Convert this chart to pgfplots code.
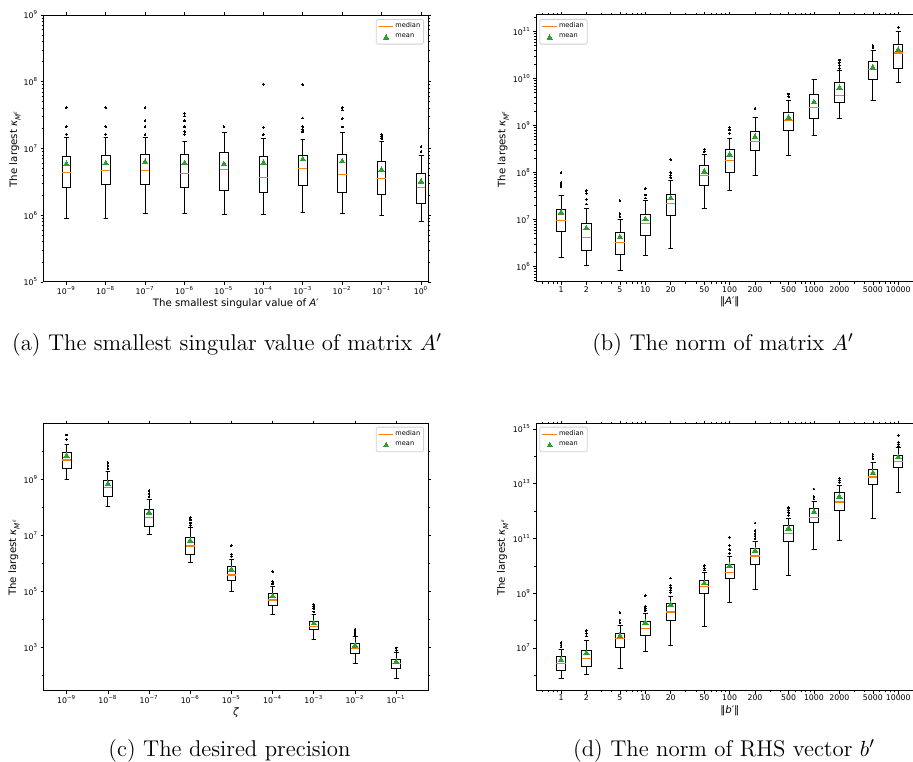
\documentclass[border=0pt]{standalone}
\usepackage{pgfplots}
\pgfplotsset{compat=1.18}
\usepackage{fontspec}
\newfontfamily\dv{DejaVu Sans}
\definecolor{mplorange}{HTML}{FF7F0E}
\definecolor{mplgreen}{HTML}{2CA02C}
\newcommand\tickfont{\dv\fontsize{3.9}{4.5}\selectfont}
\newcommand\labfont{\dv\fontsize{5.1}{6}\selectfont}
\newcommand\legfont{\dv\fontsize{3.3}{4}\selectfont}
\newcommand\capfont{\fontsize{11.4}{13.5}\selectfont}
\newcommand\ylab{The largest {\itshape κ}\textsubscript{{\itshape M}\textsuperscript{{\itshape ε}}}}
\pgfplotsset{
  every axis/.append style={
    scale only axis,
    axis line style={line width=0.5pt},
    tick align=outside,
    major tick length=1.4pt, minor tick length=0.8pt,
    every tick/.style={black, line width=0.35pt},
    tick label style={font=\tickfont},
    xticklabel style={inner sep=0.6pt},
    yticklabel style={inner sep=1pt},
    label style={font=\labfont, inner sep=0.5pt},
    legend style={draw=black!18, rounded corners=0.8pt, fill=white, font=\legfont,
      inner xsep=1pt, inner ysep=0.9pt, row sep=0.4pt, nodes={inner sep=0.7pt}},
    legend cell align=left,
    legend image code/.code={\draw[mark repeat=2, mark phase=2, #1] plot coordinates {(0pt,0pt) (3.6pt,0pt) (7.2pt,0pt)};},
  },
  boxln/.style={forget plot, black, line width=0.45pt, mark=none, line join=miter, line cap=rect},
  medln/.style={forget plot, mplorange, line width=0.6pt, mark=none},
  outl/.style={forget plot, only marks, mark=*, mark size=0.42pt, black,
    mark options={fill=black, draw=black, line width=0pt}},
  meanmk/.style={forget plot, only marks, mark=triangle*, mark size=1.6pt,
    mark options={fill=mplgreen, draw=mplgreen, line width=0pt}},
}
% #1 position, #2 lower whisker, #3 Q1, #4 median, #5 Q3, #6 upper whisker, #7 outliers
\newcommand{\bx}[7]{%
  \pgfmathsetmacro\bxl{#1-\bw}\pgfmathsetmacro\bxr{#1+\bw}%
  \pgfmathsetmacro\capl{#1-\cw}\pgfmathsetmacro\capr{#1+\cw}%
  \edef\tmp{%
    \noexpand\addplot[boxln] coordinates {(\bxl,#3)(\bxr,#3)(\bxr,#5)(\bxl,#5)(\bxl,#3)};
    \noexpand\addplot[boxln] coordinates {(#1,#3)(#1,#2)(\capl,#2)(\capr,#2)};
    \noexpand\addplot[boxln] coordinates {(#1,#5)(#1,#6)(\capl,#6)(\capr,#6)};
    \noexpand\addplot[medln] coordinates {(\bxl,#4)(\bxr,#4)};
  }\tmp
  \if\relax\detokenize{#7}\relax\else
    \def\pts{}\foreach \v in {#7}{\xdef\pts{\pts(#1,\v)}}%
    \edef\tmp{\noexpand\addplot[outl] coordinates {\pts};}\tmp
  \fi}
\newcommand{\leg}{%
  \addlegendimage{draw=mplorange, line width=0.75pt, mark=none}
  \addlegendentry{median}
  \addlegendimage{only marks, mark=triangle*, mark size=1.5pt, mark options={fill=mplgreen, draw=mplgreen, line width=0pt}}
  \addlegendentry{mean}}
\begin{document}
\begin{tikzpicture}
\useasboundingbox (0,0) rectangle (456.5pt,380.5pt);
% (a)
\def\bw{0.11}\def\cw{0.055}
\begin{axis}[ymode=log, at={(21.65pt,239.5pt)}, anchor=south west, width=192.5pt, height=133.5pt,
  xmin=-0.584, xmax=9.185, ymin=1e5, ymax=1e9,
  xtick={0,1,2,3,4,5,6,7,8,9},
  xticklabels={10\textsuperscript{−9},10\textsuperscript{−8},10\textsuperscript{−7},10\textsuperscript{−6},10\textsuperscript{−5},10\textsuperscript{−4},10\textsuperscript{−3},10\textsuperscript{−2},10\textsuperscript{−1},10\textsuperscript{0}},
  ytick={1e5,1e6,1e7,1e8,1e9},
  yticklabels={10\textsuperscript{5},10\textsuperscript{6},10\textsuperscript{7},10\textsuperscript{8},10\textsuperscript{9}},
  minor ytick={2e5,3e5,4e5,5e5,6e5,7e5,8e5,9e5,2e6,3e6,4e6,5e6,6e6,7e6,8e6,9e6,2e7,3e7,4e7,5e7,6e7,7e7,8e7,9e7,2e8,3e8,4e8,5e8,6e8,7e8,8e8,9e8},
  xlabel={The smallest singular value of {\itshape A}′}, ylabel={\ylab},
  xlabel style={at={(axis description cs:0.5,-0.08)}, anchor=center},
  ylabel style={at={(axis description cs:-0.0735,0.5)}, anchor=center},
  legend style={at={(1,1)}, anchor=north east, xshift=-2.15pt, yshift=-2pt}]
\bx{0}{8.9e5}{2.63e6}{4.4e6}{7.64e6}{1.47e7}{4.1e7,2.12e7,1.63e7}
\bx{1}{8.9e5}{2.92e6}{4.72e6}{7.9e6}{1.47e7}{4.1e7,2.12e7,1.63e7}
\bx{2}{1.05e6}{2.92e6}{4.72e6}{8.19e6}{1.47e7}{4.1e7,2.6e7,2.12e7,1.63e7}
\bx{3}{1.05e6}{2.57e6}{4.26e6}{8.1e6}{1.27e7}{3.35e7,3.06e7,2.6e7,2.12e7,1.79e7,1.63e7}
\bx{4}{1.04e6}{2.32e6}{4.83e6}{8.77e6}{1.73e7}{2.12e7}
\bx{5}{1.03e6}{2.19e6}{3.71e6}{7.64e6}{1.42e7}{9.2e7,2.07e7,1.61e7}
\bx{6}{1.12e6}{2.75e6}{5.06e6}{7.8e6}{1.36e7}{9.1e7,2.86e7,2.12e7,1.93e7,1.77e7}
\bx{7}{1.07e6}{2.21e6}{4.11e6}{8.28e6}{1.71e7}{4.1e7,3.76e7,2.8e7,2.1e7}
\bx{8}{9.9e5}{2.07e6}{3.58e6}{6.43e6}{1.29e7}{1.61e7,1.5e7,1.4e7}
\bx{9}{8.07e5}{1.52e6}{2.6e6}{4.21e6}{7.9e6}{1.06e7,8.98e6}
\addplot[meanmk] coordinates {(0,5.87e6)(1,6.0e6)(2,6.28e6)(3,6.0e6)(4,5.8e6)(5,6.07e6)(6,6.89e6)(7,6.43e6)(8,4.78e6)(9,3.19e6)};
\leg
\end{axis}
% (b)
\def\bw{0.055}\def\cw{0.0275}
\begin{axis}[ymode=log, at={(268pt,239.5pt)}, anchor=south west, width=193.75pt, height=133.5pt,
  xmin=-0.297, xmax=4.30, ymin=4.72e5, ymax=2.26e11,
  xtick={0,0.30103,0.69897,1,1.30103,1.69897,2,2.30103,2.69897,3,3.30103,3.69897,4},
  xticklabels={1,2,5,10,20,50,100,200,500,1000,2000,5000,10000},
  minor xtick={-0.22185,-0.15490,-0.09691,-0.04576,0.47712,0.60206,0.77815,0.84510,0.90309,0.95424,1.47712,1.60206,1.77815,1.84510,1.90309,1.95424,2.47712,2.60206,2.77815,2.84510,2.90309,2.95424,3.47712,3.60206,3.77815,3.84510,3.90309,3.95424},
  ytick={1e6,1e7,1e8,1e9,1e10,1e11},
  yticklabels={10\textsuperscript{6},10\textsuperscript{7},10\textsuperscript{8},10\textsuperscript{9},10\textsuperscript{10},10\textsuperscript{11}},
  minor ytick={5e5,6e5,7e5,8e5,9e5,2e6,3e6,4e6,5e6,6e6,7e6,8e6,9e6,2e7,3e7,4e7,5e7,6e7,7e7,8e7,9e7,2e8,3e8,4e8,5e8,6e8,7e8,8e8,9e8,2e9,3e9,4e9,5e9,6e9,7e9,8e9,9e9,2e10,3e10,4e10,5e10,6e10,7e10,8e10,9e10,2e11},
  xlabel={‖{\itshape A}′‖}, ylabel={\ylab},
  xlabel style={at={(axis description cs:0.5,-0.075)}, anchor=center},
  ylabel style={at={(axis description cs:-0.0844,0.5)}, anchor=center},
  legend style={at={(0,1)}, anchor=north west, xshift=1.65pt, yshift=-2pt}]
\bx{0}{1.55e6}{5.65e6}{9.5e6}{1.69e7}{3.35e7}{1e8,6.2e7,5.5e7,5.0e7}
\bx{0.30103}{1.08e6}{2.23e6}{4.2e6}{8.2e6}{1.71e7}{4.14e7,3.63e7,2.71e7,2.15e7}
\bx{0.69897}{8.36e5}{1.83e6}{3.3e6}{5.28e6}{1e7}{2.54e7,1.34e7,1.16e7}
\bx{1}{1.74e6}{4.65e6}{8.36e6}{1.3e7}{2.58e7}{4.57e7,3.35e7,2.89e7}
\bx{1.30103}{2.42e6}{1.2e7}{2.19e7}{3.52e7}{6.87e7}{1.89e8,1e8,8.77e7,7.83e7}
\bx{1.69897}{1.74e7}{5.47e7}{8.77e7}{1.41e8}{2.5e8}{3.13e8,2.8e8}
\bx{2}{4.14e7}{1e8}{1.83e8}{3.08e8}{5.28e8}{9.2e8,8.1e8,6.87e8}
\bx{2.30103}{8.77e7}{2.99e8}{4.57e8}{7.45e8}{1.46e9}{2.34e9}
\bx{2.69897}{2.3e8}{7.96e8}{1.3e9}{1.89e9}{3.46e9}{4.72e9,4.14e9}
\bx{3}{6.33e8}{1.41e9}{2.45e9}{4.57e9}{9.4e9}{}
\bx{3.30103}{1.39e9}{3.19e9}{4.42e9}{8.5e9}{1.48e10}{2.5e10,2.19e10,1.92e10,1.66e10}
\bx{3.69897}{3.46e9}{9.4e9}{1.58e10}{2.34e10}{4.07e10}{5.03e10,4.57e10}
\bx{4}{8.36e9}{1.66e10}{3.52e10}{5.28e10}{1e11}{1.24e11}
\addplot[meanmk] coordinates {(0,1.41e7)(0.30103,6.55e6)(0.69897,4.2e6)(1,1.02e7)(1.30103,2.85e7)(1.69897,1.05e8)(2,2.42e8)(2.30103,5.74e8)(2.69897,1.48e9)(3,3.13e9)(3.30103,6.33e9)(3.69897,1.71e10)(4,4.07e10)};
\leg
\end{axis}
% (c)
\def\bw{0.105}\def\cw{0.0525}
\begin{axis}[ymode=log, at={(21.65pt,35.15pt)}, anchor=south west, width=192.5pt, height=133.7pt,
  xmin=-0.568, xmax=8.78, ymin=28, ymax=1e11,
  xtick={0,1,2,3,4,5,6,7,8},
  xticklabels={10\textsuperscript{−9},10\textsuperscript{−8},10\textsuperscript{−7},10\textsuperscript{−6},10\textsuperscript{−5},10\textsuperscript{−4},10\textsuperscript{−3},10\textsuperscript{−2},10\textsuperscript{−1}},
  ytick={1e3,1e5,1e7,1e9},
  yticklabels={10\textsuperscript{3},10\textsuperscript{5},10\textsuperscript{7},10\textsuperscript{9}},
  minor ytick={1e2,1e4,1e6,1e8,1e10},
  xlabel={{\itshape ζ}}, ylabel={\ylab},
  xlabel style={at={(axis description cs:0.5,-0.081)}, anchor=center},
  ylabel style={at={(axis description cs:-0.076,0.5)}, anchor=center},
  legend style={at={(1,1)}, anchor=north east, xshift=-2.15pt, yshift=-1.7pt}]
\bx{0}{1e9}{2.4e9}{4.9e9}{9.2e9}{1.78e10}{3.83e10,2.68e10}
\bx{1}{1.09e8}{2.47e8}{5.18e8}{9.2e8}{1.93e9}{4.05e9,3.16e9,2.47e9}
\bx{2}{1.03e7}{2.15e7}{4.28e7}{8.5e7}{1.83e8}{3.94e8,3.08e8,2.4e8}
\bx{3}{1.06e6}{2.15e6}{4.16e6}{8.5e6}{1.83e7}{4.28e7,3.53e7,2.75e7,2.28e7}
\bx{4}{9.7e4}{2.4e5}{3.83e5}{7.8e5}{1.39e6}{4.27e6,2.1e6,1.73e6}
\bx{5}{1.51e4}{3.08e4}{4.9e4}{8.04e4}{1.43e5}{5.04e5,2.21e5,1.83e5}
\bx{6}{1930}{4160}{5620}{8500}{1.47e4}{3.34e4,2.83e4,2.34e4,1.83e4}
\bx{7}{268}{611}{921}{1320}{2340}{4400,3720,3160,2750}
\bx{8}{76}{178}{261}{373}{646}{946,782}
\addplot[meanmk] coordinates {(0,6.8e9)(1,6.8e8)(2,6.45e7)(3,6.28e6)(4,5.94e5)(5,6.63e4)(6,7200)(7,1150)(8,299)};
\leg
\end{axis}
% (d)
\def\bw{0.055}\def\cw{0.0275}
\begin{axis}[ymode=log, at={(268pt,35.15pt)}, anchor=south west, width=193.75pt, height=133.7pt,
  xmin=-0.297, xmax=4.30, ymin=2.75e5, ymax=1.62e15,
  xtick={0,0.30103,0.69897,1,1.30103,1.69897,2,2.30103,2.69897,3,3.30103,3.69897,4},
  xticklabels={1,2,5,10,20,50,100,200,500,1000,2000,5000,10000},
  minor xtick={-0.22185,-0.15490,-0.09691,-0.04576,0.47712,0.60206,0.77815,0.84510,0.90309,0.95424,1.47712,1.60206,1.77815,1.84510,1.90309,1.95424,2.47712,2.60206,2.77815,2.84510,2.90309,2.95424,3.47712,3.60206,3.77815,3.84510,3.90309,3.95424},
  ytick={1e7,1e9,1e11,1e13,1e15},
  yticklabels={10\textsuperscript{7},10\textsuperscript{9},10\textsuperscript{11},10\textsuperscript{13},10\textsuperscript{15}},
  minor ytick={1e6,1e8,1e10,1e12,1e14},
  xlabel={‖{\itshape b}′‖}, ylabel={\ylab},
  xlabel style={at={(axis description cs:0.5,-0.077)}, anchor=center},
  ylabel style={at={(axis description cs:-0.086,0.5)}, anchor=center},
  legend style={at={(0,1)}, anchor=north west, xshift=1.65pt, yshift=-1.7pt}]
\bx{0}{7.75e5}{1.56e6}{2.73e6}{5.07e6}{8.9e6}{1.56e7,1.28e7,1.08e7}
\bx{0.30103}{1.05e6}{2.13e6}{4.17e6}{8.2e6}{1.84e7}{4.28e7,3.42e7,2.73e7}
\bx{0.69897}{1.85e6}{1.05e7}{2.24e7}{3.42e7}{6.5e7}{2e8,1.05e8,8.6e7}
\bx{1}{7.73e6}{2.97e7}{5.2e7}{9.4e7}{1.84e8}{8.1e8,3.22e8,2.72e8,2.3e8}
\bx{1.30103}{1.24e7}{1.05e8}{2.06e8}{4.27e8}{7.7e8}{3.59e9,1.94e9,1.59e9,1.31e9,1.08e9}
\bx{1.69897}{5.98e7}{1.02e9}{1.73e9}{2.87e9}{5.78e9}{1.01e10,8.3e9,7.05e9}
\bx{2}{4.64e8}{3.49e9}{5.78e9}{1.14e10}{2.22e10}{1.1e11,5.6e10,3.9e10,2.86e10}
\bx{2.30103}{1.38e9}{1.14e10}{2.29e10}{4.24e10}{7.64e10}{3.67e11,1.93e11,1.54e11,1.23e11,9.84e10}
\bx{2.69897}{4.62e9}{7.85e10}{1.54e11}{2.94e11}{5.44e11}{1.33e12,1.1e12,8.77e11,7.0e11}
\bx{3}{4.0e10}{3.89e11}{5.75e11}{1.23e12}{2.34e12}{6.43e12,3.37e12,2.77e12}
\bx{3.30103}{8.8e10}{1.07e12}{2.15e12}{4.72e12}{9.0e12}{1.62e13,1.37e13,1.12e13}
\bx{3.69897}{5.6e11}{9.5e12}{1.76e13}{3.27e13}{6.22e13}{1.22e14,1.03e14,8.47e13}
\bx{4}{4.85e12}{3.97e13}{6.4e13}{1.09e14}{2.08e14}{5.87e14,3.26e14,2.75e14,2.33e14}
\addplot[meanmk] coordinates {(0,3.62e6)(0.30103,6.35e6)(0.69897,2.73e7)(1,8.4e7)(1.30103,3.81e8)(1.69897,2.3e9)(2,9.86e9)(2.30103,3.58e10)(2.69897,2.34e11)(3,9.27e11)(3.30103,3.37e12)(3.69897,2.47e13)(4,9.23e13)};
\leg
\end{axis}
\node[font=\capfont, anchor=base] at (113.5pt,205.5pt) {(a) The smallest singular value of matrix $A'$};
\node[font=\capfont, anchor=base] at (361.5pt,205.5pt) {(b) The norm of matrix $A'$};
\node[font=\capfont, anchor=base] at (114.75pt,2.15pt) {(c) The desired precision};
\node[font=\capfont, anchor=base] at (362pt,2.15pt) {(d) The norm of RHS vector $b'$};
\end{tikzpicture}
\end{document}
